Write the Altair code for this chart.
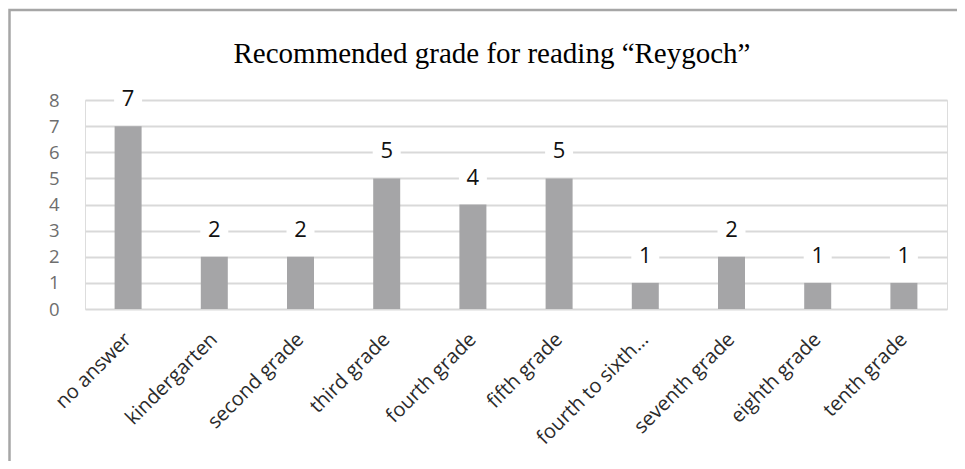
import altair as alt
import pandas as pd

categories = ["no answer", "kindergarten", "second grade", "third grade", "fourth grade",
              "fifth grade", "fourth to sixth…", "seventh grade", "eighth grade", "tenth grade"]
values = [7, 2, 2, 5, 4, 5, 1, 2, 1, 1]
y_ticks = [0, 1, 2, 3, 4, 5, 6, 7, 8]
title_text = "Recommended grade for reading “Reygoch”"

df = pd.DataFrame({"grade": categories, "count": values})

W, H = 862, 209
PL, PT, PR, PB = 77, 92, 10, 152

x = alt.X("grade:N", sort=categories, title=None,
          scale=alt.Scale(paddingInner=0, paddingOuter=0),
          axis=alt.Axis(labelAngle=-45, labelAlign="right", labelBaseline="middle",
                        labelFont="Open Sans", labelFontSize=20, labelColor="#2b2b2b",
                        labelPadding=27, domain=False, ticks=False, labelLimit=300))
y = alt.Y("count:Q", title=None,
          scale=alt.Scale(domain=[0, 8], nice=False),
          axis=alt.Axis(values=y_ticks, labelFont="Open Sans", labelFontSize=18.5,
                        labelColor="#6e6e6e", labelPadding=26, domain=False, ticks=False,
                        labelOverlap=False, gridColor="#d9d9d9", gridWidth=2))

base = alt.Chart(df).encode(x=x, y=y)

bars = base.mark_bar(width=27, color="#a5a5a7")

label_bg = base.mark_square(size=28 * 28, color="white", opacity=1, yOffset=-27)

labels = base.mark_text(font="Open Sans", fontSize=22, color="#111111",
                        baseline="middle", dy=-27).encode(text="count:Q")

deco = pd.DataFrame({"k": [0]})
frame = alt.Chart(deco).mark_rect(
    fill=None, stroke="#a6a6a6", strokeWidth=2.5).encode(
    x=alt.value(-PL + 1.5), x2=alt.value(W + 60),
    y=alt.value(-PT + 2), y2=alt.value(H + 250))

title = alt.Chart(deco).mark_text(
    font="Liberation Serif", fontSize=29, color="#000000",
    align="center", baseline="middle", text=title_text).encode(
    x=alt.value(407), y=alt.value(-46))

chart = alt.layer(frame, title, bars, label_bg, labels).properties(
    width=W, height=H,
    autosize=alt.AutoSizeParams(type="none"),
    padding={"left": PL, "top": PT, "right": PR, "bottom": PB},
).configure_view(stroke=None).configure(background="white")

chart.save("out.html", embed_options={"renderer": "svg", "actions": False})
